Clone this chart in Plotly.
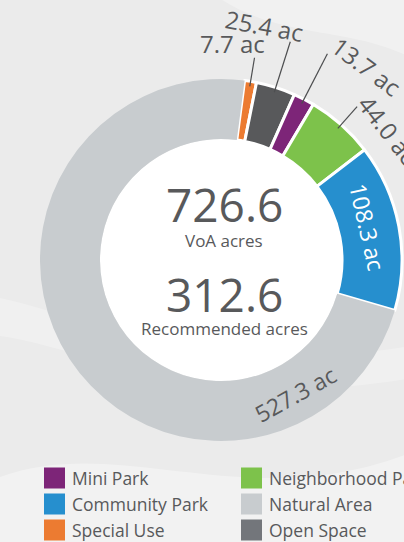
import math
import plotly.graph_objects as go

# ---------------- data ----------------
categories = ["Special Use", "Open Space", "Mini Park", "Neighborhood Park",
              "Community Park", "Natural Area"]
acres = [7.7, 25.4, 13.7, 44.0, 108.3, 527.3]
value_labels = ["7.7 ac", "25.4 ac", "13.7 ac", "44.0 ac", "108.3 ac", "527.3 ac"]
total_voa = "726.6"
total_recommended = "312.6"
legend_order = ["Mini Park", "Neighborhood Park", "Community Park",
                "Natural Area", "Special Use", "Open Space"]

# ---------------- styles ----------------
slice_colors = {
    "Special Use": "#ec7b31",
    "Open Space": "#58595b",
    "Mini Park": "#7d2578",
    "Neighborhood Park": "#7dc24b",
    "Community Park": "#268fce",
    "Natural Area": "#c8cccf",
}
legend_colors = dict(slice_colors)
legend_colors["Open Space"] = "#73767b"
TXT = "#58595b"
FONT = "Open Sans"

W, H = 404, 542
CX, CY = 221, 260          # donut centre (px)
R_OUT, R_IN = 181, 121     # radii (px)
ROTATION = 7.5             # start angle of first slice, clockwise from top


def px(x):
    return x / W


def py(y):
    return 1 - y / H


def polar(r, ang):
    a = math.radians(ang)
    return CX + r * math.sin(a), CY - r * math.cos(a)


total = sum(acres)
mids = []
acc = 0.0
for v in acres:
    s = ROTATION + acc / total * 360
    e = ROTATION + (acc + v) / total * 360
    mids.append((s + e) / 2)
    acc += v

fig = go.Figure()

fig.add_trace(go.Pie(
    labels=categories,
    values=acres,
    sort=False,
    direction="clockwise",
    rotation=ROTATION,
    hole=R_IN / R_OUT,
    marker=dict(colors=[slice_colors[c] for c in categories],
                line=dict(color="white", width=[3, 3, 3, 3, 3, 0])),
    textinfo="none",
    hoverinfo="skip",
    showlegend=False,
    domain=dict(x=[px(CX - R_OUT), px(CX + R_OUT)],
                y=[py(CY + R_OUT), py(CY - R_OUT)]),
))

shapes = []
annotations = []

# background swooshes
shapes.append(dict(type="path", xref="paper", yref="paper", layer="below",
                   path="M 0,0.12 C 0.3,0.2 0.6,0.05 1,0.16 L 1,0 L 0,0 Z",
                   fillcolor="rgba(255,255,255,0.35)", line=dict(width=0)))
shapes.append(dict(type="path", xref="paper", yref="paper", layer="below",
                   path="M 0.55,1 C 0.7,0.93 0.85,0.95 1,0.9 L 1,1 Z",
                   fillcolor="rgba(255,255,255,0.3)", line=dict(width=0)))
shapes.append(dict(type="path", xref="paper", yref="paper", layer="below",
                   path="M 0,0.45 C 0.2,0.42 0.5,0.3 1,0.36 L 1,0.3 C 0.5,0.24 0.2,0.36 0,0.38 Z",
                   fillcolor="rgba(255,255,255,0.25)", line=dict(width=0)))

# white hole
shapes.append(dict(type="circle", xref="paper", yref="paper", layer="below",
                   x0=px(CX - R_IN), x1=px(CX + R_IN),
                   y0=py(CY + R_IN), y1=py(CY - R_IN),
                   fillcolor="white", line=dict(width=0)))

# outside labels with leader lines (first four slices)
label_ang = [3.0, 10.5, 37.0, 52.0]
label_r = [217, 238, 242, 212]
line_r_out = [205, 229, 232, 205]
for i in range(4):
    x0, y0 = polar(176, mids[i])
    x1, y1 = polar(line_r_out[i], mids[i])
    shapes.append(dict(type="line", xref="paper", yref="paper",
                       x0=px(x0), y0=py(y0), x1=px(x1), y1=py(y1),
                       line=dict(color="#4d4e50", width=1.2)))
    lx, ly = polar(label_r[i], label_ang[i])
    annotations.append(dict(xref="paper", yref="paper", x=px(lx), y=py(ly),
                            text=value_labels[i], showarrow=False,
                            textangle=label_ang[i] if label_ang[i] > 5 else 0,
                            xanchor="center", yanchor="middle",
                            font=dict(family=FONT, size=24, color=TXT)))

# label inside community park
lx, ly = polar(150, mids[4] - 2)
annotations.append(dict(xref="paper", yref="paper", x=px(lx), y=py(ly),
                        text=value_labels[4], showarrow=False,
                        textangle=mids[4] - 2,
                        xanchor="center", yanchor="middle",
                        font=dict(family=FONT, size=23, color="white")))

# label inside natural area
ang_na = 151
lx, ly = polar(153, ang_na)
annotations.append(dict(xref="paper", yref="paper", x=px(lx), y=py(ly),
                        text=value_labels[5], showarrow=False,
                        textangle=ang_na - 180,
                        xanchor="center", yanchor="middle",
                        font=dict(family=FONT, size=23, color=TXT)))

# centre texts
centre = [(total_voa, 204, 46), ("VoA acres", 240, 17),
          (total_recommended, 294, 46), ("Recommended acres", 328, 17)]
for txt, yy, sz in centre:
    annotations.append(dict(xref="paper", yref="paper", x=px(224), y=py(yy),
                            text=txt, showarrow=False,
                            xanchor="center", yanchor="middle",
                            font=dict(family=FONT, size=sz, color=TXT)))

# legend (2 columns)
col_x = [44, 241]
row_y = [478, 504, 530]
SW = 21
for k, name in enumerate(legend_order):
    cx = col_x[k % 2]
    cy = row_y[k // 2]
    shapes.append(dict(type="rect", xref="paper", yref="paper",
                       x0=px(cx), x1=px(cx + SW),
                       y0=py(cy + SW / 2), y1=py(cy - SW / 2),
                       fillcolor=legend_colors[name], line=dict(width=0)))
    annotations.append(dict(xref="paper", yref="paper", x=px(cx + SW + 5), y=py(cy),
                            text=name, showarrow=False,
                            xanchor="left", yanchor="middle",
                            font=dict(family=FONT, size=17.5, color=TXT)))

fig.update_layout(
    width=W, height=H,
    margin=dict(l=0, r=0, t=0, b=0),
    paper_bgcolor="#ebebeb",
    plot_bgcolor="#ebebeb",
    shapes=shapes,
    annotations=annotations,
    showlegend=False,
)

fig.write_html("out.html",
               config={"displayModeBar": False, "staticPlot": True},
               post_script="document.body.style.margin='0px';"
                           "document.body.style.overflow='hidden';")
